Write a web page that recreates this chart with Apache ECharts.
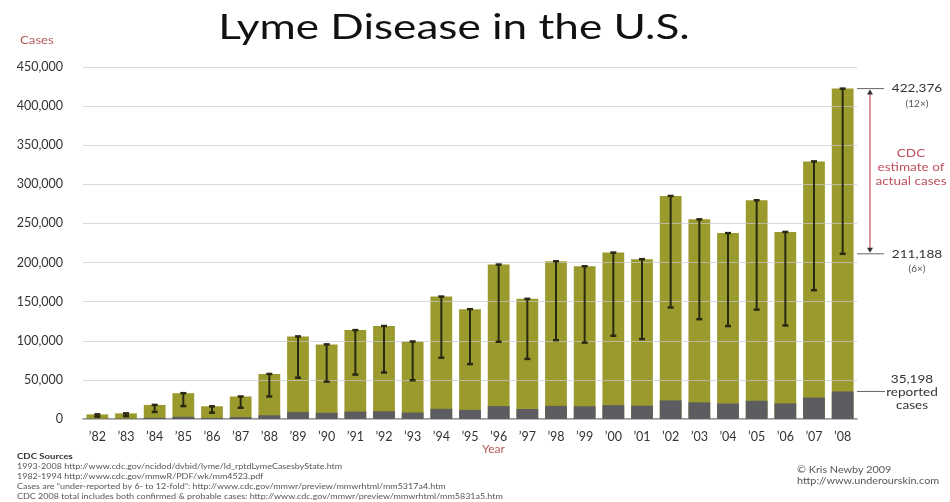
<!DOCTYPE html>
<html>
<head>
<meta charset="utf-8">
<script src="https://cdn.jsdelivr.net/npm/echarts@6/dist/echarts.min.js"></script>
<style>
html,body{margin:0;padding:0;background:#fff;}
#c{width:950px;height:502px;}
</style>
</head>
<body>
<div id="c"></div>
<script>
const years = ["’82","’83","’84","’85","’86","’87","’88","’89","’90","’91","’92","’93","’94","’95","’96","’97","’98","’99","’00","’01","’02","’03","’04","’05","’06","’07","’08"];
const reported = [491,600,1500,2750,1350,2400,4800,8800,7950,9470,9908,8257,13043,11700,16455,12801,16801,16273,17730,17029,23763,21273,19804,23305,19931,27444,35198];
const low6x = [2946,3600,9000,16500,8100,14400,28800,52800,47700,56820,59448,49542,78258,70200,98730,76806,100806,97638,106380,102174,142578,127638,118824,139830,119586,164664,211188];
const high12x = [5892,7200,18000,33000,16200,28800,57600,105600,95400,113640,118896,99084,156516,140400,197460,153612,201612,195276,212760,204348,285156,255276,237648,279660,239172,329328,422376];
const yTicks = [0,50000,100000,150000,200000,250000,300000,350000,400000,450000];
const sources = [
  "1993-2008 http://www.cdc.gov/ncidod/dvbid/lyme/ld_rptdLymeCasesbyState.htm",
  "1982-1994 http://www.cdc.gov/mmwR/PDF/wk/mm4523.pdf",
  "Cases are \u201cunder-reported by 6- to 12-fold\u201d: http://www.cdc.gov/mmwr/preview/mmwrhtml/mm5317a4.htm",
  "CDC 2008 total includes both confirmed & probable cases: http://www.cdc.gov/mmwr/preview/mmwrhtml/mm5831a5.htm"
];

const FONT = 'Lato, "Open Sans", sans-serif';
const chart = echarts.init(document.getElementById('c'), null, {renderer:'canvas'});

const option = {
  animation:false,
  backgroundColor:'#fff',
  textStyle:{fontFamily:FONT},
  grid:{left:83, right:93, top:67, bottom:83, containLabel:false},
  xAxis:{
    type:'category', data:years,
    axisTick:{show:false},
    axisLine:{lineStyle:{color:'#777', width:1.5}},
    axisLabel:{color:'#333', fontSize:12.5, margin:11, fontFamily:FONT, interval:0}
  },
  yAxis:{
    type:'value', min:0, max:450000, interval:50000, z:3,
    axisLine:{show:false}, axisTick:{show:false},
    axisLabel:{color:'#333', fontSize:12.5, margin:20, fontFamily:FONT,
      formatter:v => yTicks.includes(v) ? v.toLocaleString('en-US') : ''},
    splitLine:{lineStyle:{color:'rgba(200,200,210,0.7)', width:1}}
  },
  series:[
    {type:'bar', name:'estimate', data:high12x, barWidth:'76%', barGap:'-100%',
      itemStyle:{color:'#9b9a2c'}},
    {type:'bar', name:'reported', data:reported, barWidth:'76%', barGap:'-100%',
      itemStyle:{color:'#5d5c60'}},
    {type:'custom', name:'range', z:4,
      data: years.map((y,i)=>[i, low6x[i], high12x[i]]),
      renderItem:(params, api)=>{
        const x = api.value(0);
        const lo = api.coord([x, api.value(1)]);
        const hi = api.coord([x, api.value(2)]);
        const st = {stroke:'#2a2a12', lineWidth:2};
        return {type:'group', children:[
          {type:'line', shape:{x1:lo[0], y1:lo[1], x2:hi[0], y2:hi[1]}, style:st},
          {type:'line', shape:{x1:lo[0]-3, y1:lo[1], x2:lo[0]+3, y2:lo[1]}, style:{stroke:'#2a2a12', lineWidth:2.5}},
          {type:'line', shape:{x1:hi[0]-3, y1:hi[1], x2:hi[0]+3, y2:hi[1]}, style:{stroke:'#2a2a12', lineWidth:2.5}}
        ]};
      }
    }
  ]
};
chart.setOption(option);

// annotations computed through the y scale
const last = years.length - 1;
const yHi = chart.convertToPixel({yAxisIndex:0}, high12x[last]);
const yLo = chart.convertToPixel({yAxisIndex:0}, low6x[last]);
const yRep = chart.convertToPixel({yAxisIndex:0}, reported[last]);
const gx = 857, tx = 917;
const red = '#c0505c';
const small = {fontFamily:FONT, fill:'#333', fontSize:11.5, align:'center', verticalAlign:'middle'};
const tiny = {fontFamily:FONT, fill:'#555', fontSize:8.5, align:'center', verticalAlign:'middle'};
const redTxt = {fontFamily:FONT, fill:red, fontSize:11.5, align:'center', verticalAlign:'middle'};
const foot = {fontFamily:FONT, fill:'#555', fontSize:8, align:'left', verticalAlign:'middle'};
const S = 1.18;
function t(x, y, style, sx){ return {type:'text', x:x, y:y, scaleX:sx||S, style:style}; }
const graphics = [
  {type:'text', x:454, y:28, scaleX:1.26, style:{text:'Lyme Disease in the U.S.', fontFamily:FONT, fill:'#111', fontSize:35, align:'center', verticalAlign:'middle'}},
  t(20, 40, {text:'Cases', fontFamily:FONT, fill:'#b55a5a', fontSize:11, verticalAlign:'middle'}, 1.2),
  t(482, 449, {text:'Year', fontFamily:FONT, fill:'#b55a5a', fontSize:11.5, verticalAlign:'middle'}, 1.05),
  {type:'line', shape:{x1:gx, y1:yHi, x2:gx+27, y2:yHi}, style:{stroke:'#666', lineWidth:1}},
  {type:'line', shape:{x1:gx, y1:yLo, x2:gx+27, y2:yLo}, style:{stroke:'#666', lineWidth:1}},
  {type:'line', shape:{x1:gx, y1:yRep, x2:gx+28, y2:yRep}, style:{stroke:'#666', lineWidth:1}},
  {type:'line', shape:{x1:870, y1:yHi+2, x2:870, y2:yLo-2}, style:{stroke:red, lineWidth:1.2}},
  {type:'polygon', shape:{points:[[870,yHi+1],[867,yHi+6],[873,yHi+6]]}, style:{fill:'#333'}},
  {type:'polygon', shape:{points:[[870,yLo-1],[867,yLo-6],[873,yLo-6]]}, style:{fill:'#333'}},
  t(tx, yHi, Object.assign({text:high12x[last].toLocaleString('en-US')}, small)),
  t(tx, yHi+16, Object.assign({text:'(12×)'}, tiny)),
  t(tx, yLo, Object.assign({text:low6x[last].toLocaleString('en-US')}, small)),
  t(tx, yLo+15, Object.assign({text:'(6×)'}, tiny)),
  t(911, 153, Object.assign({text:'CDC'}, redTxt)),
  t(911, 167, Object.assign({text:'estimate of'}, redTxt)),
  t(911, 181, Object.assign({text:'actual cases'}, redTxt)),
  t(912, yRep-12, Object.assign({text:reported[last].toLocaleString('en-US')}, small)),
  t(912, yRep+1, Object.assign({text:'reported'}, small)),
  t(912, yRep+14, Object.assign({text:'cases'}, small)),
  t(17, 456, {text:'CDC Sources', fontFamily:FONT, fill:'#333', fontSize:8, fontWeight:'bold', verticalAlign:'middle'}, 1.2),
  t(797, 470, Object.assign({}, foot, {text:'© Kris Newby 2009', fontSize:9}), 1.2),
  t(797, 481, Object.assign({}, foot, {text:'http://www.underourskin.com', fontSize:9}), 1.2)
];
sources.forEach((s,i)=>{
  graphics.push(t(17, 466+i*10, Object.assign({}, foot, {text:s}), 1.12));
});
chart.setOption({graphic:graphics});
</script>
</body>
</html>
